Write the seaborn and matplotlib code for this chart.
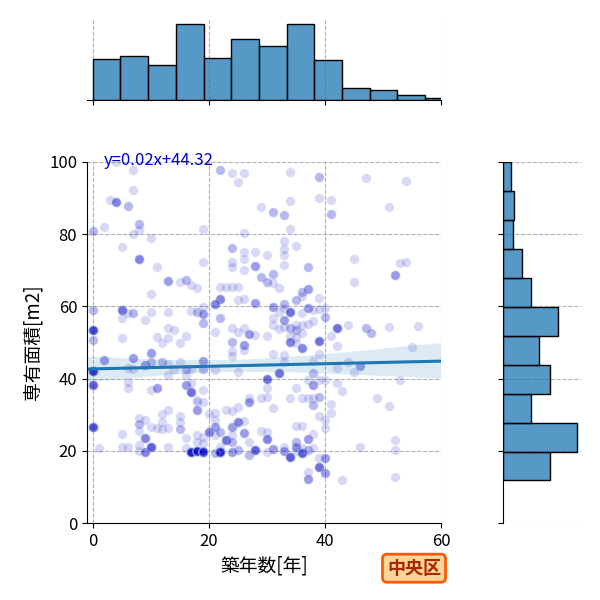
import numpy as np
import pandas as pd
import seaborn as sns
import matplotlib.pyplot as plt

## 中央区: 築年数 vs 専有面積 (joint plot with regression + marginal histograms)
## identical points overlap, so each position carries a count

age = [3, 4, 0, 2, 0, 0, 0, 2, 0, 0, 0, 1, 4,
       7, 7, 6, 8, 8, 7, 5, 8, 5, 5, 7, 6, 9, 5, 7, 7, 6, 9, 6, 6, 8, 8, 9, 8, 9, 5, 5, 6, 8, 8, 9,
       10, 11, 13, 10, 10, 13, 13, 14, 13, 11, 12, 10, 10, 12, 13, 13, 14, 10, 11, 13, 12, 10, 10, 11, 12, 12, 13, 13,
       19, 19, 15, 16, 17, 18, 17, 18, 19, 19, 19, 15, 16, 15, 16, 16, 17, 19, 19, 16, 17, 17, 19, 18, 18, 19, 18, 15,
       15, 15, 16, 18, 18, 19, 19, 16, 17, 18, 19, 19,
       22, 22, 23, 22, 21, 22, 21, 21, 22, 20, 21, 21, 20, 21, 21, 22, 23, 23, 22, 21,
       24, 26, 25, 26, 24, 26, 28, 24, 24, 26, 26, 28, 24, 25, 25, 26, 28, 24, 25, 26, 28, 27, 24, 24, 24, 26, 26, 25,
       27, 24, 24, 24, 24, 25, 25, 26, 26, 27, 27, 28, 27, 24, 25,
       29, 29, 31, 33, 33, 33, 33, 33, 30, 31, 29, 30, 30, 31, 32, 31, 33, 33, 32, 31, 31, 33, 33, 32, 30, 31, 33, 33,
       30, 32, 30, 29, 31, 30, 30, 31, 33, 33, 30,
       34, 34, 34, 35, 37, 37, 36, 35, 36, 34, 36, 37, 38, 34, 35, 35, 36, 37, 38, 34, 35, 36, 34, 35, 36, 38, 37, 38,
       38, 35, 36, 37, 38, 34, 38, 35, 36, 38, 37, 35, 35, 35, 34, 36, 36, 37, 38, 37, 37,
       39, 39, 41, 41, 39, 39, 40, 40, 39, 39, 41, 42, 42, 42, 39, 40, 42, 39, 41, 41, 39, 40, 40, 39, 40, 39, 40,
       47, 45, 45, 44, 47, 44, 45, 46, 43, 43, 46, 51, 52, 48, 51, 49, 51, 52, 52, 52, 54, 53, 54, 56, 55, 53, 61, 62]

area = [89.5, 88.8, 80.9, 82.0, 59.0, 53.5, 50.7, 45.2, 42.2, 38.2, 26.7, 20.9, 99.9,
        97.8, 92.2, 87.8, 82.7, 81.3, 80.0, 76.5, 73.0, 59.0, 56.9, 58.1, 58.1, 56.2, 51.2, 45.8, 42.6, 43.0, 43.8,
        39.0, 37.3, 29.0, 27.3, 28.5, 25.5, 23.5, 24.6, 21.1, 21.1, 21.6, 20.0, 19.6,
        79.0, 71.0, 67.0, 63.4, 58.4, 58.5, 54.1, 53.5, 51.3, 51.6, 49.8, 47.0, 44.5, 44.5, 44.0, 41.0, 42.7, 36.8,
        37.3, 31.3, 30.1, 21.1, 26.7, 26.4, 27.9, 26.0, 26.4, 21.1,
        81.4, 72.4, 66.7, 67.3, 65.9, 65.2, 58.7, 58.4, 57.8, 59.9, 55.3, 49.8, 51.8, 44.5, 42.6, 41.0, 42.7, 44.9,
        42.6, 38.2, 36.4, 38.7, 36.8, 34.1, 33.4, 33.4, 31.3, 29.7, 27.9, 26.0, 23.5, 24.4, 22.5, 23.9, 22.1, 20.7,
        19.7, 20.0, 19.7, 20.0,
        97.8, 65.5, 65.5, 62.0, 60.6, 56.7, 52.8, 42.4, 19.7, 25.3, 26.7, 24.4, 30.1, 30.4, 28.5, 25.1, 23.0, 31.3,
        21.1, 19.3,
        96.9, 96.9, 94.4, 80.2, 76.1, 75.0, 75.0, 72.2, 70.9, 73.0, 70.0, 71.2, 65.5, 65.5, 61.8, 62.0, 60.9, 53.9,
        52.8, 53.9, 52.1, 52.3, 50.2, 47.6, 46.3, 49.3, 47.9, 41.7, 34.7, 26.5, 24.4, 22.5, 31.0, 32.2, 27.9, 28.3,
        24.8, 33.4, 22.5, 20.2, 18.8, 19.6, 20.2,
        87.4, 68.2, 86.2, 85.3, 78.1, 75.8, 74.2, 71.5, 74.2, 69.0, 34.5, 37.5, 66.8, 66.4, 65.2, 59.9, 60.6, 59.5,
        58.4, 56.7, 54.8, 56.2, 54.4, 53.7, 51.9, 46.8, 46.5, 44.7, 39.9, 41.5, 35.0, 25.5, 31.9, 25.3, 23.3, 20.5,
        21.1, 20.0, 19.6,
        97.3, 89.2, 81.4, 76.7, 70.8, 64.8, 64.1, 61.8, 63.0, 58.4, 58.1, 59.5, 59.0, 54.1, 53.5, 54.8, 54.8, 55.0,
        56.0, 51.9, 51.6, 52.5, 50.2, 49.8, 48.4, 44.9, 39.6, 41.5, 38.2, 37.3, 34.5, 34.5, 34.5, 34.7, 32.7, 27.0,
        27.0, 24.6, 23.3, 22.5, 21.1, 20.0, 18.4, 19.3, 20.7, 20.2, 20.7, 14.0, 12.2,
        95.8, 89.9, 89.5, 85.6, 62.2, 59.2, 59.5, 57.1, 50.4, 46.8, 51.9, 53.9, 49.0, 42.9, 39.6, 39.6, 38.7, 35.0,
        32.9, 30.4, 29.7, 28.5, 26.2, 17.9, 17.9, 15.6, 13.9,
        95.5, 73.0, 66.8, 54.8, 53.9, 44.5, 41.9, 43.5, 36.6, 11.8, 21.1, 87.4, 68.7, 52.5, 54.4, 34.7, 32.4, 23.0,
        20.2, 12.8, 94.7, 72.1, 72.2, 54.6, 48.7, 39.6, 40.5, 47.5]

count = [1, 4, 2, 1, 2, 8, 2, 3, 10, 6, 7, 1, 1,
         1, 1, 2, 2, 1, 1, 1, 4, 5, 1, 2, 1, 1, 1, 3, 1, 1, 3, 1, 1, 1, 2, 1, 1, 4, 1, 1, 1, 1, 1, 4,
         1, 1, 3, 1, 1, 1, 1, 1, 1, 1, 1, 3, 2, 2, 1, 1, 1, 1, 3, 1, 1, 6, 1, 1, 1, 1, 1, 1,
         1, 1, 1, 2, 1, 1, 1, 2, 3, 1, 2, 1, 1, 1, 2, 1, 1, 3, 2, 3, 5, 1, 1, 1, 1, 1, 3, 1,
         1, 2, 1, 1, 1, 1, 1, 1, 12, 12, 10, 2,
         2, 1, 1, 4, 4, 2, 1, 1, 12, 4, 3, 1, 1, 1, 1, 2, 5, 1, 1, 2,
         1, 1, 1, 1, 2, 1, 1, 1, 1, 1, 1, 3, 1, 1, 1, 1, 3, 1, 1, 1, 1, 3, 2, 1, 1, 3, 1, 1,
         1, 3, 1, 2, 1, 1, 4, 1, 3, 3, 1, 6, 2, 3, 2,
         1, 2, 2, 2, 1, 1, 1, 1, 1, 2, 1, 1, 2, 1, 1, 3, 2, 1, 1, 1, 1, 3, 1, 1, 1, 1, 1, 1,
         5, 5, 1, 1, 1, 1, 4, 3, 1, 3, 1,
         1, 1, 1, 1, 2, 3, 2, 2, 1, 5, 1, 3, 1, 2, 2, 1, 1, 1, 1, 1, 1, 1, 4, 1, 4, 1, 1, 2,
         3, 1, 1, 1, 1, 1, 2, 1, 1, 1, 3, 2, 3, 1, 6, 6, 1, 2, 1, 1, 3,
         2, 1, 1, 2, 1, 1, 1, 2, 5, 1, 1, 5, 1, 1, 1, 1, 1, 2, 1, 1, 1, 1, 1, 1, 3, 5, 3,
         1, 1, 1, 1, 2, 1, 1, 3, 1, 1, 1, 1, 3, 2, 1, 1, 1, 1, 1, 1, 1, 1, 1, 1, 1, 1, 1, 1]

xcol = "築年数[年]"
ycol = "専有面積[m2]"
df = pd.DataFrame({xcol: np.repeat(age, count), ycol: np.repeat(area, count)})

plt.rcParams["axes.grid"] = True
plt.rcParams["axes.axisbelow"] = True
plt.rcParams["grid.linestyle"] = "--"
plt.rcParams["grid.color"] = "#b0b0b0"
plt.rcParams["xtick.labelsize"] = 12
plt.rcParams["ytick.labelsize"] = 12
plt.rcParams["font.family"] = ["Noto Sans CJK JP", "DejaVu Sans"]

g = sns.JointGrid(data=df, x=xcol, y=ycol, height=6)
ax = g.ax_joint
ax.set_xlim(-1, 60)
ax.set_ylim(0, 100)

sns.scatterplot(data=df, x=xcol, y=ycol, ax=ax, color="mediumblue", alpha=0.15,
                s=40, edgecolor="lightsteelblue", linewidth=1, legend=False)
sns.regplot(data=df, x=xcol, y=ycol, ax=ax, scatter=False, truncate=False,
            color="tab:blue", seed=0, line_kws={"linewidth": 2.2})

sns.histplot(data=df, x=xcol, ax=g.ax_marg_x, bins=13, edgecolor="black", linewidth=1)
sns.histplot(data=df, y=ycol, ax=g.ax_marg_y, bins=11, edgecolor="black", linewidth=1)
for m in (g.ax_marg_x, g.ax_marg_y):
    m.set_xlabel("")
    m.set_ylabel("")

ax.set_xlim(-1, 60)
ax.set_ylim(0, 100)
ax.set_xticks([0, 20, 40, 60])
ax.set_xlabel(xcol, fontsize=13.5)
ax.set_ylabel(ycol, fontsize=13.5)

ax.text(0.048, 1.005, "y=0.02x+44.32", transform=ax.transAxes, color="mediumblue",
        fontsize=12, ha="left", va="center")

g.ax_joint.set_position([0.145, 0.1283, 0.59, 0.6017])
g.ax_marg_x.set_position([0.145, 0.8333, 0.59, 0.1333])
g.ax_marg_y.set_position([0.8383, 0.1283, 0.13, 0.6017])

g.figure.text(0.69, 0.053, "中央区", fontsize=13, fontweight="bold", color="#a82800",
              ha="center", va="center",
              bbox=dict(boxstyle="round,pad=0.25", fc="#ffd59a", ec="#ff5a00", lw=2))

g.figure.savefig("out.png", dpi=100)
